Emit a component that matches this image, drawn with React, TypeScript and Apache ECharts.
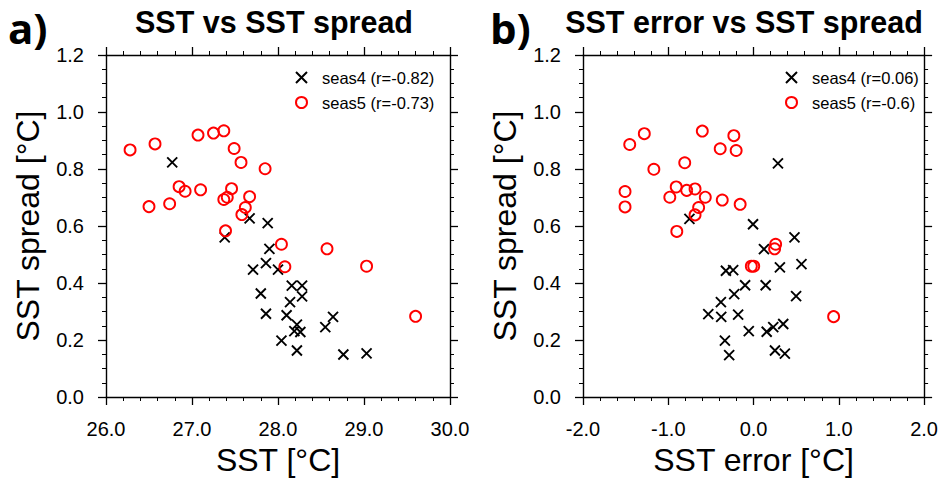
import React, { useEffect, useRef } from "react";
import * as echarts from "echarts";

// Panel a) SST vs SST spread
const sstSeas4: number[][] = [
  [26.77, 0.823], [27.67, 0.627], [27.88, 0.61], [27.38, 0.56], [27.9, 0.52],
  [27.86, 0.47], [27.71, 0.447], [28.0, 0.447], [28.16, 0.391], [28.28, 0.391],
  [28.28, 0.353], [27.8, 0.363], [28.14, 0.333], [27.86, 0.292], [28.1, 0.287],
  [28.22, 0.254], [28.19, 0.231], [28.26, 0.228], [28.04, 0.198], [28.22, 0.163],
  [28.55, 0.245], [28.64, 0.281], [28.76, 0.149], [29.03, 0.153],
];
const sstSeas5: number[][] = [
  [26.28, 0.867], [26.57, 0.888], [27.07, 0.919], [27.25, 0.926], [27.37, 0.934],
  [27.49, 0.872], [27.57, 0.823], [27.85, 0.801], [26.85, 0.738], [26.92, 0.722],
  [27.1, 0.727], [27.46, 0.731], [27.37, 0.693], [27.41, 0.701], [27.67, 0.703],
  [26.5, 0.668], [26.74, 0.678], [27.62, 0.665], [27.58, 0.64], [27.39, 0.583],
  [28.04, 0.536], [28.57, 0.52], [28.08, 0.457], [29.03, 0.459], [29.6, 0.283],
];

// Panel b) SST error vs SST spread
const errSeas4: number[][] = [
  [0.286, 0.82], [-0.752, 0.625], [-0.006, 0.606], [0.48, 0.56], [0.122, 0.519],
  [0.562, 0.466], [0.309, 0.455], [-0.324, 0.443], [-0.239, 0.445], [-0.099, 0.392],
  [0.142, 0.392], [-0.227, 0.361], [-0.383, 0.333], [0.499, 0.354], [-0.531, 0.291],
  [-0.379, 0.281], [-0.181, 0.289], [-0.056, 0.231], [0.154, 0.229], [0.231, 0.245],
  [0.348, 0.256], [-0.336, 0.198], [0.251, 0.163], [0.367, 0.152], [-0.286, 0.147],
];
const errSeas5: number[][] = [
  [-1.452, 0.886], [-1.281, 0.924], [-0.601, 0.933], [-0.231, 0.917], [-0.391, 0.871],
  [-0.204, 0.865], [-0.807, 0.822], [-1.169, 0.799], [-1.507, 0.721], [-1.507, 0.667],
  [-0.907, 0.737], [-0.784, 0.725], [-0.686, 0.73], [-0.982, 0.701], [-0.566, 0.701],
  [-0.367, 0.691], [-0.157, 0.676], [-0.644, 0.665], [-0.686, 0.639], [-0.9, 0.581],
  [-0.026, 0.459], [0.002, 0.459], [0.259, 0.536], [0.247, 0.52], [0.939, 0.282],
];

const legendA = ["seas4 (r=-0.82)", "seas5 (r=-0.73)"];
const legendB = ["seas4 (r=0.06)", "seas5 (r=-0.6)"];
const titles = ["SST vs SST spread", "SST error vs SST spread"];
const panelLabels = ["a)", "b)"];
const xNames = ["SST [°C]", "SST error [°C]"];
const yName = "SST spread [°C]";
const xRanges = [
  [26, 30],
  [-2, 2],
];
const yRange = [0, 1.2];

const FONT = "'Liberation Sans', Arial, Helvetica, sans-serif";
const CROSS = "path://M0,0L10,10M10,0L0,10";

export default function App() {
  const ref = useRef<HTMLDivElement>(null);
  useEffect(() => {
    if (!ref.current) return;
    const chart = echarts.init(ref.current, undefined, { renderer: "svg" });

    const grids = [
      { left: 106, right: 491, top: 55, bottom: 89 },
      { left: 583, right: 15, top: 55, bottom: 89 },
    ];
    const tick = { show: true, inside: false, length: 8, lineStyle: { color: "#000", width: 1.3 } };
    const minor = { show: true, splitNumber: 5, length: 4, lineStyle: { color: "#000", width: 1 } };
    const line = { show: true, onZero: false, lineStyle: { color: "#000", width: 1.4 } };

    const xAxis: any[] = [];
    const yAxis: any[] = [];
    for (let g = 0; g < 2; g++) {
      const base = {
        type: "value",
        gridIndex: g,
        min: xRanges[g][0],
        max: xRanges[g][1],
        interval: 1,
        splitLine: { show: false },
        axisLine: line,
        axisTick: tick,
        minorTick: minor,
      };
      xAxis.push({
        ...base,
        position: "bottom",
        name: xNames[g],
        nameLocation: "middle",
        nameGap: 42,
        nameTextStyle: { fontFamily: FONT, fontSize: 32, color: "#000" },
        axisLabel: {
          show: true,
          margin: 22,
          fontFamily: FONT,
          fontSize: 20,
          color: "#000",
          formatter: (v: number) => v.toFixed(1),
        },
      });
      xAxis.push({ ...base, position: "top", axisLabel: { show: false } });
      const ybase = {
        type: "value",
        gridIndex: g,
        min: yRange[0],
        max: yRange[1],
        interval: 0.2,
        splitLine: { show: false },
        axisLine: line,
        axisTick: tick,
        minorTick: { ...minor, splitNumber: 4 },
      };
      yAxis.push({
        ...ybase,
        position: "left",
        name: yName,
        nameLocation: "middle",
        nameGap: 62,
        nameTextStyle: { fontFamily: FONT, fontSize: 32, color: "#000" },
        axisLabel: {
          show: true,
          margin: 22,
          fontFamily: FONT,
          fontSize: 20,
          color: "#000",
          formatter: (v: number) => v.toFixed(1),
        },
      });
      yAxis.push({ ...ybase, position: "right", axisLabel: { show: false } });
    }

    const crossStyle = { color: "rgba(0,0,0,0)", borderColor: "#000", borderWidth: 1.9, opacity: 1 };
    const circStyle = { color: "rgba(255,255,255,0)", borderColor: "#ff0000", borderWidth: 1.9, opacity: 1 };
    const mk = (name: string, data: number[][], g: number, isCross: boolean) => ({
      type: "scatter",
      name,
      data,
      xAxisIndex: g * 2,
      yAxisIndex: g * 2,
      symbol: isCross ? CROSS : "circle",
      symbolSize: isCross ? 10 : 11,
      itemStyle: isCross ? crossStyle : circStyle,
      emphasis: { disabled: true },
      z: isCross ? 3 : 4,
    });

    const legendCommon = {
      orient: "vertical",
      top: 64,
      itemWidth: 11,
      itemHeight: 11,
      itemGap: 8,
      selectedMode: false,
      textStyle: { fontFamily: FONT, fontSize: 16.5, color: "#000", padding: [0, 0, 0, 10] },
    };

    chart.setOption({
      animation: false,
      backgroundColor: "#fff",
      grid: grids,
      xAxis,
      yAxis,
      legend: [
        { ...legendCommon, left: 290, data: legendA },
        { ...legendCommon, left: 780, data: legendB },
      ],
      series: [
        mk(legendA[0], sstSeas4, 0, true),
        mk(legendA[1], sstSeas5, 0, false),
        mk(legendB[0], errSeas4, 1, true),
        mk(legendB[1], errSeas5, 1, false),
      ],
      graphic: [
        { type: "text", left: 8, top: 6, style: { text: panelLabels[0], font: "bold 42px 'Open Sans', sans-serif", fill: "#000" } },
        { type: "text", left: 490, top: 6, style: { text: panelLabels[1], font: "bold 42px 'Open Sans', sans-serif", fill: "#000" } },
        { type: "text", x: 274, y: 22, style: { text: titles[0], font: `bold 30.5px ${FONT}`, fill: "#000", align: "center", verticalAlign: "middle" } },
        { type: "text", x: 744, y: 22, style: { text: titles[1], font: `bold 30.5px ${FONT}`, fill: "#000", align: "center", verticalAlign: "middle" } },
      ],
    });
    return () => chart.dispose();
  }, []);
  return <div ref={ref} style={{ position: "fixed", left: 0, top: 0, width: 941, height: 486 }} />;
}
